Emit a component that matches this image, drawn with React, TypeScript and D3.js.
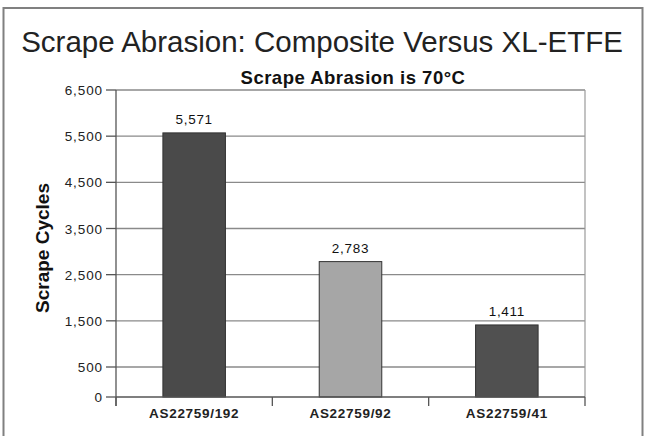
import React from "react";
import * as d3 from "d3";

const categories = ["AS22759/192", "AS22759/92", "AS22759/41"];
const values = [5571, 2783, 1411];
const barColors = ["#4a4a4a", "#a6a6a6", "#505050"];
const yTicks = [0, 500, 1500, 2500, 3500, 4500, 5500, 6500];
const title = "Scrape Abrasion: Composite Versus XL-ETFE";
const subtitle = "Scrape Abrasion is 70\u00B0C";
const yLabel = "Scrape Cycles";

const W = 646;
const H = 436;
const plot = { left: 116, right: 585, top: 90, bottom: 397 };

export default function App() {
  const x = d3
    .scaleBand<string>()
    .domain(categories)
    .range([plot.left, plot.right])
    .paddingInner(0.6)
    .paddingOuter(0.3);
  const y = d3
    .scaleLinear()
    .domain([0, 500, 6500])
    .range([plot.bottom, 367, plot.top]);
  const step = x.step();
  const fmt = d3.format(",");
  const font = "'Liberation Sans', Arial, Helvetica, sans-serif";
  const bounds = [plot.left, plot.left + step, plot.left + 2 * step, plot.right];

  return (
    <svg
      width={W}
      height={H}
      style={{ position: "absolute", left: 0, top: 0, background: "#fff" }}
      fontFamily={font}
    >
      <rect x={3.5} y={8} width={639} height={440} fill="#fff" stroke="#808080" strokeWidth={2} />
      <text x={322} y={52} textAnchor="middle" fontSize={29.5} fill="#222">
        {title}
      </text>
      <text x={353} y={84} textAnchor="middle" fontSize={18.5} fontWeight="bold" fill="#111" letterSpacing={0.5}>
        {subtitle}
      </text>
      {/* gridlines */}
      {yTicks.filter((t) => t > 0).map((t) => (
        <line key={t} x1={plot.left} x2={plot.right} y1={y(t)} y2={y(t)} stroke="#8a8a8a" strokeWidth={1.3} />
      ))}
      <line x1={plot.right} x2={plot.right} y1={plot.top} y2={plot.bottom} stroke="#9a9a9a" strokeWidth={1.2} />
      {/* bars */}
      {values.map((v, i) => (
        <g key={categories[i]}>
          <rect
            x={x(categories[i])}
            y={y(v)}
            width={x.bandwidth()}
            height={y(0) - y(v)}
            fill={barColors[i]}
            stroke="#333"
            strokeWidth={1}
          />
          <text
            x={(x(categories[i]) as number) + x.bandwidth() / 2}
            y={y(v) - 9}
            textAnchor="middle"
            fontSize={13.5}
            fill="#111"
            letterSpacing={0.7}
          >
            {fmt(v)}
          </text>
          <text
            x={(x(categories[i]) as number) + x.bandwidth() / 2}
            y={418}
            textAnchor="middle"
            fontSize={13.5}
            fontWeight="bold"
            fill="#222"
            letterSpacing={0.7}
          >
            {categories[i]}
          </text>
        </g>
      ))}
      {/* axes */}
      <line x1={plot.left} x2={plot.left} y1={plot.top} y2={406} stroke="#555" strokeWidth={1.3} />
      <line x1={plot.left} x2={plot.right} y1={plot.bottom} y2={plot.bottom} stroke="#555" strokeWidth={1.3} />
      {bounds.map((b, i) => (
        <line key={i} x1={b} x2={b} y1={plot.bottom} y2={406} stroke="#555" strokeWidth={1.3} />
      ))}
      {yTicks.map((t) => (
        <g key={t}>
          <line x1={106} x2={plot.left} y1={y(t)} y2={y(t)} stroke="#555" strokeWidth={1.3} />
          <text x={103} y={y(t) + 5} textAnchor="end" fontSize={13.5} fill="#222" letterSpacing={0.9}>
            {fmt(t)}
          </text>
        </g>
      ))}
      <text
        transform={`translate(49,248) rotate(-90)`}
        textAnchor="middle"
        fontSize={19}
        fontWeight="bold"
        fill="#111"
      >
        {yLabel}
      </text>
    </svg>
  );
}
